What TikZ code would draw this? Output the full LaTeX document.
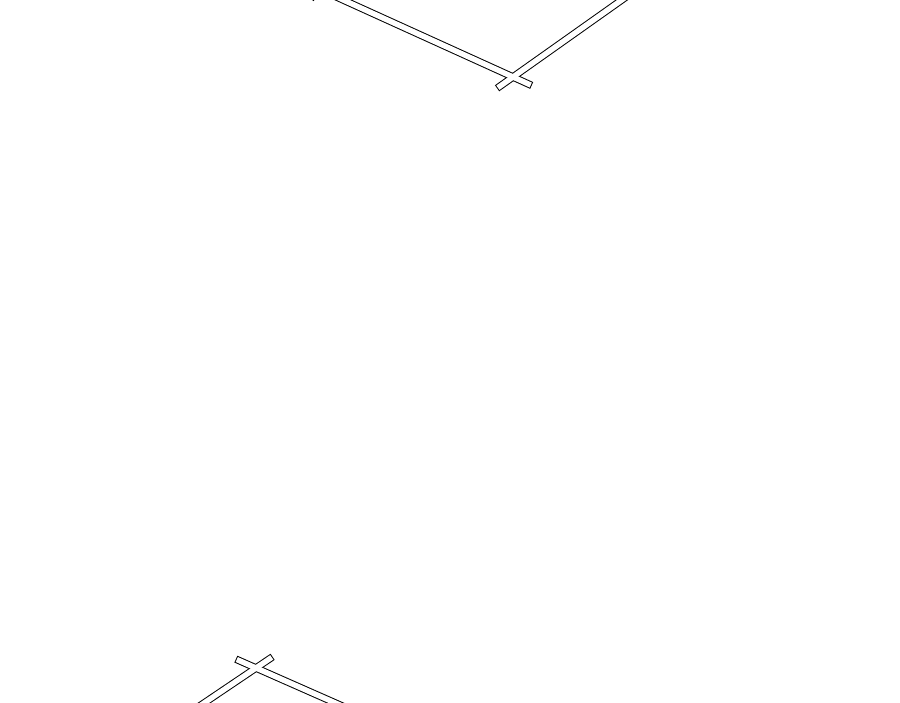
\documentclass[tikz,border=0pt]{standalone}
\begin{document}
\begin{tikzpicture}[x=1pt,y=-1pt]
\tikzset{
  barline/.style={draw=black,line width=2pt},
  barfill/.style={fill=white},
}
\useasboundingbox (0,0) rectangle (900,703);
\clip (0,0) rectangle (900,703);
% outlines
\path[barline,shift={(513,77)},rotate=-24.4] (-260,-2.7) rectangle (19.5,2.7);
\path[barline,shift={(513,77)},rotate=35.3] (-18.5,-2.7) rectangle (180,2.7);
\path[barline,shift={(256,668)},rotate=-23.8] (-21,-2.7) rectangle (150,2.7);
\path[barline,shift={(256,668)},rotate=34] (-150,-2.7) rectangle (19,2.7);
\path[barline,shift={(313,-4)},rotate=60] (-3,-2.2) rectangle (20,2.2);
% fills
\path[barfill,shift={(513,77)},rotate=-24.4] (-260,-2.7) rectangle (19.5,2.7);
\path[barfill,shift={(513,77)},rotate=35.3] (-18.5,-2.7) rectangle (180,2.7);
\path[barfill,shift={(256,668)},rotate=-23.8] (-21,-2.7) rectangle (150,2.7);
\path[barfill,shift={(256,668)},rotate=34] (-150,-2.7) rectangle (19,2.7);
\path[barfill,shift={(313,-4)},rotate=60] (-3,-2.2) rectangle (20,2.2);
\end{tikzpicture}
\end{document}
